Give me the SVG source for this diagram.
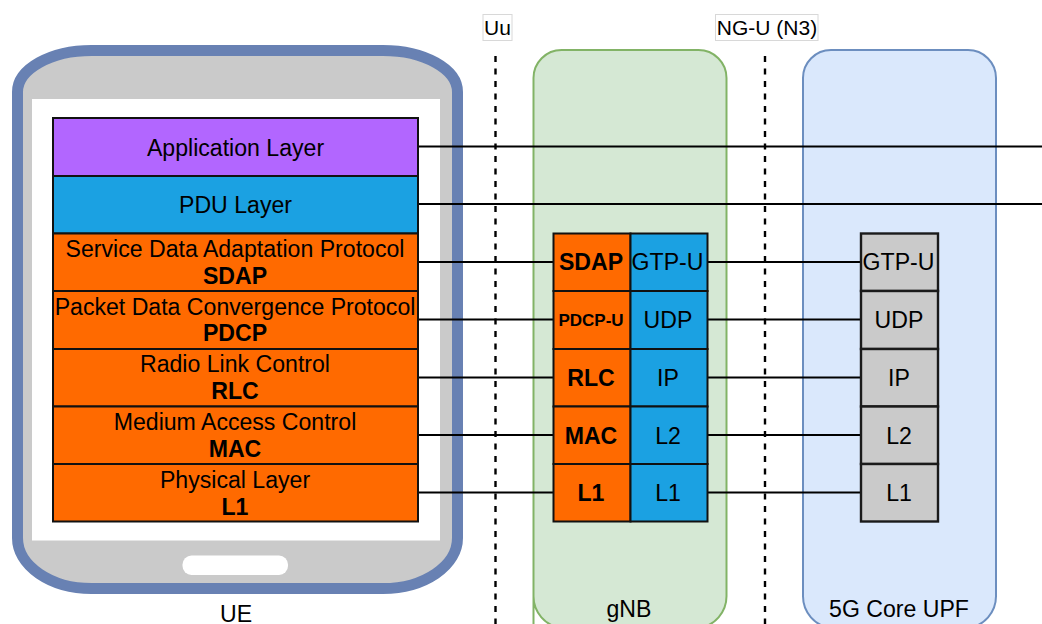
<svg xmlns="http://www.w3.org/2000/svg" width="1042" height="624" viewBox="0 0 1042 624">
<style>
text{font-family:"Liberation Sans",Arial,sans-serif;font-size:23.1px;fill:#000;text-anchor:middle}
.b{font-weight:bold}
.s{font-size:21px}
.l{fill:#ff6a00;stroke:#111;stroke-width:2}
.p{fill:#1ba1e2;stroke:#111;stroke-width:2}
.g{fill:#cacaca;stroke:#1a1a1a;stroke-width:2.4}
.c{stroke:#000;stroke-width:1.8;fill:none}
.d{stroke:#000;stroke-width:2.4;fill:none;stroke-dasharray:6 6.5}
.lb{fill:#fff;stroke:#d8d8d8;stroke-width:1}
</style>
<rect width="1042" height="624" fill="#fff"/>
<g id="gnb-box"><path d="M533.500 628V78a28 28 0 0 1 28-28h137a28 28 0 0 1 28 28V596a32 32 0 0 1-28 32h-137a32 32 0 0 1-28-32z" fill="#d5e8d4" stroke="#82b366" stroke-width="2"/><text x="629" y="617">gNB</text></g>
<g id="upf-box"><path d="M803 78a28 28 0 0 1 28-28h137a28 28 0 0 1 28 28V596a32 32 0 0 1-28 32h-137a32 32 0 0 1-28-32z" fill="#dae8fc" stroke="#6c8ebf" stroke-width="2"/><text x="899" y="617">5G Core UPF</text></g>
<g id="ue">
<path d="M17.500 92A74 41.500 0 0 1 91.500 50.500H383A74.500 41.500 0 0 1 457.500 92V538A74.500 50.500 0 0 1 383 588.500H91.500A74 50.500 0 0 1 17.500 538Z" fill="#cacaca" stroke="#6881b3" stroke-width="11"/>
<rect x="32" y="99" width="408" height="441.500" fill="#fff"/>
<rect x="182.500" y="555.500" width="105.500" height="19.500" rx="9" fill="#fff"/>
<text x="236" y="621.500">UE</text>
</g>
<g id="connectors">
<path class="d" d="M495.500 56V624M765 56V624"/>
<path class="c" d="M418 146.500H1042M418 204H1042M418 262H553M418 319.500H553M418 377.500H553M418 435H553M418 492.500H553M708 262H861M708 319.500H861M708 377.500H861M708 435H861M708 492.500H861"/>
</g>
<g id="uu"><rect class="lb" x="483" y="14.500" width="29" height="26"/><text class="s" x="497.500" y="35">Uu</text></g>
<g id="ngu"><rect class="lb" x="715.500" y="14.500" width="102.500" height="26"/><text class="s" x="767" y="35">NG-U (N3)</text></g>
<g id="ue-app"><rect x="53" y="118" width="365" height="58" fill="#b266ff" stroke="#111" stroke-width="2"/><text x="235.500" y="155.500">Application Layer</text></g>
<g id="ue-pdu"><rect class="p" x="53" y="176" width="365" height="57.500"/><text x="235.500" y="213">PDU Layer</text></g>
<g id="ue-sdap"><rect class="l" x="53" y="233.500" width="365" height="57.500"/><text x="235" y="256.500">Service Data Adaptation Protocol</text><text class="b" x="235" y="284">SDAP</text></g>
<g id="ue-pdcp"><rect class="l" x="53" y="291" width="365" height="58"/><text x="235" y="314.500">Packet Data Convergence Protocol</text><text class="b" x="235" y="341">PDCP</text></g>
<g id="ue-rlc"><rect class="l" x="53" y="349" width="365" height="57.500"/><text x="235" y="372">Radio Link Control</text><text class="b" x="235" y="399">RLC</text></g>
<g id="ue-mac"><rect class="l" x="53" y="406.500" width="365" height="57.500"/><text x="235" y="430">Medium Access Control</text><text class="b" x="235" y="456.500">MAC</text></g>
<g id="ue-l1"><rect class="l" x="53" y="464" width="365" height="57.500"/><text x="235" y="488">Physical Layer</text><text class="b" x="235" y="514.500">L1</text></g>
<g id="gnb-sdap"><rect class="l" x="553.500" y="233.500" width="77" height="57.500"/><text class="b" x="591" y="270">SDAP</text></g>
<g id="gnb-pdcp"><rect class="l" x="553.500" y="291" width="77" height="58"/><text class="b" x="591" y="325.500" style="font-size:17px">PDCP-U</text></g>
<g id="gnb-rlc"><rect class="l" x="553.500" y="349" width="77" height="57.500"/><text class="b" x="591" y="386">RLC</text></g>
<g id="gnb-mac"><rect class="l" x="553.500" y="406.500" width="77" height="57.500"/><text class="b" x="591" y="443.500">MAC</text></g>
<g id="gnb-l1"><rect class="l" x="553.500" y="464" width="77" height="57.500"/><text class="b" x="591" y="501">L1</text></g>
<g id="gnb-gtp"><rect class="p" x="630.500" y="233.500" width="77" height="57.500"/><text x="667.500" y="270">GTP-U</text></g>
<g id="gnb-udp"><rect class="p" x="630.500" y="291" width="77" height="58"/><text x="668" y="328">UDP</text></g>
<g id="gnb-ip"><rect class="p" x="630.500" y="349" width="77" height="57.500"/><text x="668" y="386">IP</text></g>
<g id="gnb-l2"><rect class="p" x="630.500" y="406.500" width="77" height="57.500"/><text x="668" y="443.500">L2</text></g>
<g id="gnb-l1b"><rect class="p" x="630.500" y="464" width="77" height="57.500"/><text x="668" y="501">L1</text></g>
<g id="upf-gtp"><rect class="g" x="861" y="233.500" width="77" height="57.500"/><text x="898.500" y="270">GTP-U</text></g>
<g id="upf-udp"><rect class="g" x="861" y="291" width="77" height="58"/><text x="899" y="328">UDP</text></g>
<g id="upf-ip"><rect class="g" x="861" y="349" width="77" height="57.500"/><text x="899" y="386">IP</text></g>
<g id="upf-l2"><rect class="g" x="861" y="406.500" width="77" height="57.500"/><text x="899" y="443.500">L2</text></g>
<g id="upf-l1"><rect class="g" x="861" y="464" width="77" height="57.500"/><text x="899" y="501">L1</text></g>
</svg>
